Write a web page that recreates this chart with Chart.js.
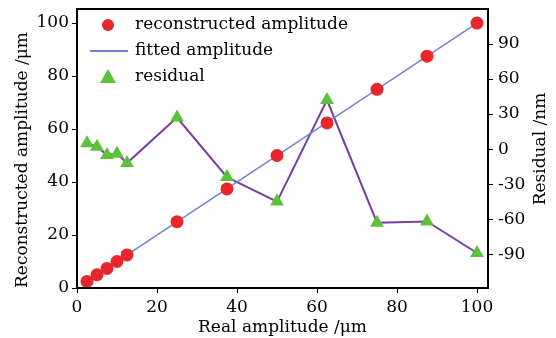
<!DOCTYPE html>
<html>
<head>
<meta charset="utf-8">
<script src="https://cdn.jsdelivr.net/npm/chart.js@4/dist/chart.umd.min.js"></script>
<style>
  html, body { margin: 0; padding: 0; background: #fff; }
  #wrap { width: 556px; height: 338px; }
</style>
</head>
<body>
<div id="wrap"><canvas id="grafico"></canvas></div>
<script>
const realAmplitude = [2.5, 5, 7.5, 10, 12.5, 25, 37.5, 50, 62.5, 75, 87.5, 100];
const reconstructed = [2.5, 5, 7.4, 10, 12.5, 25, 37.4, 50, 62.3, 75, 87.5, 100];
const fittedX = [2.5, 100];
const fittedY = [2.5, 100];
const residual = [5, 2, -5, -4, -12, 27, -24, -45, 42, -63, -62, -89];

const xTicks = [0, 20, 40, 60, 80, 100];
const leftTicks = [0, 20, 40, 60, 80, 100];
const rightTicks = [-90, -60, -30, 0, 30, 60, 90];

const fonte = 'DejaVu Serif';
const vermelho = '#e8262b';
const azul = '#7480d4';
const roxo = '#7b3f9c';
const verde = '#5cc13b';

function toPoints(xs, ys) {
  return xs.map((x, i) => ({ x: x, y: ys[i] }));
}

function fixarTicks(valores) {
  return scale => {
    scale.ticks = valores.map(v => ({ value: v }));
  };
}

// largura fixa do eixo vertical, sem folga extra em cima/embaixo
function larguraFixa(w) {
  return scale => {
    scale.width = w;
    scale.paddingTop = 0;
    scale.paddingBottom = 0;
  };
}

function tituloVertical(ctx, texto, x, y) {
  ctx.save();
  ctx.translate(x, y);
  ctx.rotate(-Math.PI / 2);
  ctx.textAlign = 'center';
  ctx.textBaseline = 'middle';
  ctx.fillText(texto, 0, 0);
  ctx.restore();
}

// moldura preta, titulos verticais e legenda manual
const molduraPlugin = {
  id: 'moldura',
  afterDraw(chart) {
    const { ctx, chartArea } = chart;
    ctx.save();
    ctx.strokeStyle = '#000';
    ctx.lineWidth = 2;
    ctx.strokeRect(chartArea.left, chartArea.top, chartArea.right - chartArea.left, chartArea.bottom - chartArea.top);

    ctx.font = '17px "' + fonte + '"';
    ctx.fillStyle = '#000';
    tituloVertical(ctx, 'Reconstructed amplitude /μm', 23, 160);
    tituloVertical(ctx, 'Residual /nm', 541, 149);

    const x0 = chartArea.left + 31;
    const xt = chartArea.left + 58;
    const linhas = [chartArea.top + 16, chartArea.top + 42, chartArea.top + 68];
    ctx.textBaseline = 'middle';
    ctx.fillText('reconstructed amplitude', xt, linhas[0]);
    ctx.fillText('fitted amplitude', xt, linhas[1]);
    ctx.fillText('residual', xt, linhas[2]);

    ctx.fillStyle = vermelho;
    ctx.beginPath();
    ctx.arc(x0, linhas[0], 6, 0, Math.PI * 2);
    ctx.fill();

    ctx.strokeStyle = azul;
    ctx.lineWidth = 2;
    ctx.beginPath();
    ctx.moveTo(x0 - 18, linhas[1]);
    ctx.lineTo(x0 + 20, linhas[1]);
    ctx.stroke();

    ctx.fillStyle = verde;
    ctx.beginPath();
    ctx.moveTo(x0, linhas[2] - 8);
    ctx.lineTo(x0 + 8, linhas[2] + 6);
    ctx.lineTo(x0 - 8, linhas[2] + 6);
    ctx.closePath();
    ctx.fill();
    ctx.restore();
  }
};

const ctx = document.getElementById('grafico').getContext('2d');
new Chart(ctx, {
  type: 'scatter',
  data: {
    datasets: [
      {
        label: 'residual',
        data: toPoints(realAmplitude, residual),
        yAxisID: 'y1',
        showLine: true,
        borderColor: roxo,
        borderWidth: 2,
        backgroundColor: verde,
        pointStyle: 'triangle',
        pointRadius: 8,
        pointBorderWidth: 0,
        order: 3
      },
      {
        label: 'fitted amplitude',
        data: toPoints(fittedX, fittedY),
        yAxisID: 'y',
        showLine: true,
        borderColor: azul,
        borderWidth: 1.5,
        pointRadius: 0,
        order: 2
      },
      {
        label: 'reconstructed amplitude',
        data: toPoints(realAmplitude, reconstructed),
        yAxisID: 'y',
        backgroundColor: vermelho,
        borderWidth: 0,
        pointRadius: 6.5,
        order: 1
      }
    ]
  },
  options: {
    responsive: true,
    maintainAspectRatio: false,
    animation: false,
    layout: { padding: { top: 9, left: 0, right: 0, bottom: 0 } },
    plugins: {
      legend: { display: false },
      tooltip: { enabled: false }
    },
    scales: {
      x: {
        type: 'linear',
        min: 0,
        max: 102.75,
        afterBuildTicks: fixarTicks(xTicks),
        afterFit: scale => { scale.height = 50; },
        grid: { drawOnChartArea: false, tickLength: 5, color: '#000' },
        border: { color: '#000', width: 2 },
        ticks: { color: '#000', font: { family: fonte, size: 17 }, padding: 4 },
        title: { display: true, text: 'Real amplitude /μm', color: '#000', font: { family: fonte, size: 17 }, padding: 0 }
      },
      y: {
        position: 'left',
        min: 0,
        max: 105.3,
        afterBuildTicks: fixarTicks(leftTicks),
        afterFit: larguraFixa(77),
        grid: { drawOnChartArea: false, tickLength: 5, color: '#000' },
        border: { color: '#000', width: 2 },
        ticks: { color: '#000', font: { family: fonte, size: 17 }, padding: 3 }
      },
      y1: {
        position: 'right',
        min: -119,
        max: 120,
        afterBuildTicks: fixarTicks(rightTicks),
        afterFit: larguraFixa(68),
        grid: { drawOnChartArea: false, tickLength: 5, color: '#000' },
        border: { color: '#000', width: 2 },
        ticks: { color: '#000', font: { family: fonte, size: 17 }, padding: 5 }
      }
    }
  },
  plugins: [molduraPlugin]
});
</script>
</body>
</html>
